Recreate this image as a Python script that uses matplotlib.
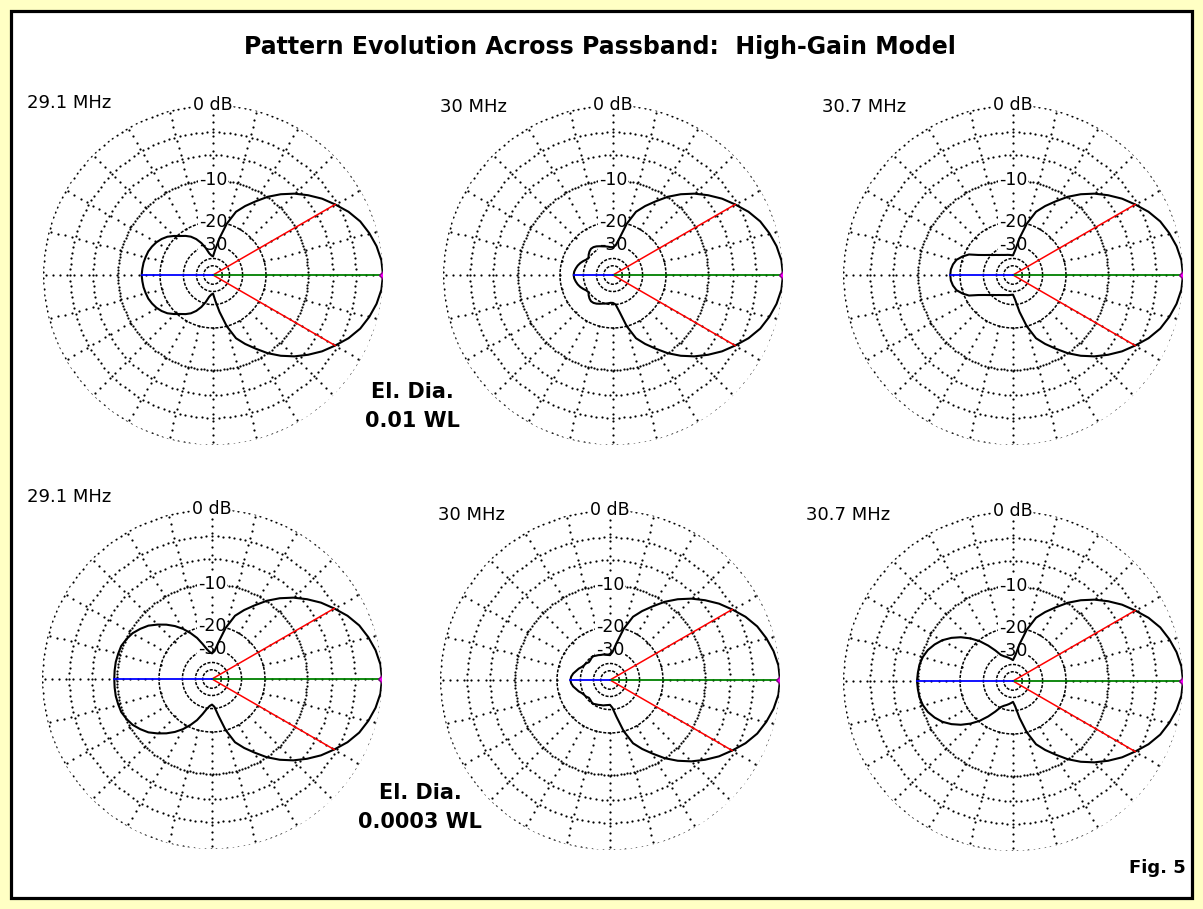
import numpy as np
import matplotlib.pyplot as plt
from matplotlib.patches import Rectangle

plt.rcParams['font.family'] = ['DejaVu Sans']

# azimuth angles (deg), pattern is symmetric about 0 deg
angles_front = [0, 5, 10, 15, 20, 25, 30, 35, 40, 45, 50, 55, 60, 65, 70, 75, 80]
angles_back = [85, 90, 95, 100, 105, 110, 115, 120, 125, 130,
               135, 140, 145, 150, 155, 160, 165, 170, 175, 180]

# forward lobe, dB relative to max (same shape in all six plots)
main_lobe_db = [0, -0.1, -0.4, -0.85, -1.4, -2.2, -3.2, -4.2, -5.4, -6.7,
                -8.2, -9.9, -11.9, -13.8, -15.9, -20.0, -26.0]

# rear half, dB, element dia 0.01 WL
back_291_thick = [-32.5, -38, -37, -35, -31, -27.6, -25.0, -23.1, -21.8, -20.7,
                  -19.3, -18.0, -17.1, -16.4, -15.9, -15.5, -15.3, -15.1, -15.0, -14.9]
back_300_thick = [-30.0, -31, -31, -30.5, -30.0, -29.5, -28.8, -28.1, -27.6, -27.5,
                  -28.0, -28.8, -29.8, -29.3, -28.2, -27.2, -26.4, -25.8, -25.3, -25.1]
back_307_thick = [-33, -37, -36.8, -36.4, -36.0, -35.6, -35.0, -34.2, -33.3, -32.1,
                  -30.8, -29.1, -27.2, -24.8, -21.5, -19.7, -18.3, -17.6, -17.2, -17.1]
# rear half, dB, element dia 0.0003 WL
back_291_thin = [-31, -32.5, -31.5, -29.5, -26.5, -23.3, -20.8, -18.5, -16.6, -15.0,
                 -13.6, -12.3, -11.4, -10.6, -10.1, -9.7, -9.6, -9.5, -9.5, -9.5]
back_300_thin = [-31, -33, -32.8, -32.5, -32.0, -31.8, -31.3, -30.9, -30.3, -30.5,
                 -31.0, -31.2, -30.3, -29.9, -29.2, -28.0, -27.1, -26.0, -25.3, -25.0]
back_307_thin = [-32.5, -36, -35, -34, -33, -32, -30.5, -27, -23.5, -20.3,
                 -17.8, -15.7, -14.0, -12.6, -11.6, -10.8, -10.3, -10.0, -9.9, -9.8]

freq_labels = ['29.1 MHz', '30 MHz', '30.7 MHz']
dia_labels = ['0.01 WL', '0.0003 WL']
ring_db = [0, -3, -6, -10, -20, -30, -40, -50]
ring_text = [(0, '0 dB'), (-10, '-10'), (-20, '-20'), (-30, '-30')]
bw_angle = 30

W, H = 1203, 909
R = 170
fig = plt.figure(figsize=(W / 100, H / 100), dpi=100, facecolor='#FFFFC4')
fig.patches.append(Rectangle((11 / W, 11 / H), 1181 / W, 887 / H, transform=fig.transFigure,
                             facecolor='white', edgecolor='black', linewidth=2.3, zorder=-10))


def arrl(db):
    # ARRL log scale: 0.89 radius per 2 dB
    return 0.89 ** (-np.asarray(db, dtype=float) / 2)


def panel(cx, cy, back, label, lx, ly):
    ax = fig.add_axes([(cx - R) / W, 1 - (cy + R) / H, 2 * R / W, 2 * R / H], projection='polar')
    ax.set_ylim(0, 1)
    ax.axis('off')

    for d in ring_db:
        r = arrl(d)
        if d >= -10:
            gap = 5.6 if d > -10 else 3.3
            n = int(round(2 * np.pi * r * R / gap))
            th = np.linspace(0, 2 * np.pi, n, endpoint=False)
            ax.plot(th, np.full(n, r), ls='none', marker='o', ms=1.6, mew=0, color='k')
        else:
            th = np.linspace(0, 2 * np.pi, 240)
            ax.plot(th, np.full(th.size, r), color='k', lw=1.1, dashes=(2, 1))

    rs = np.arange(arrl(-20), 1.0, 0.042)
    for a in range(0, 360, 15):
        ax.plot(np.full(rs.size, np.radians(a)), rs, ls='none', marker='o', ms=1.6, mew=0, color='k')

    for d, t in ring_text:
        ax.text(np.pi / 2, arrl(d), t, ha='center', va='center', fontsize=12.5, zorder=3,
                bbox=dict(fc='white', ec='none', pad=0.3))

    deg = np.array(angles_front + angles_back)
    db = np.array(main_lobe_db + back)
    th = np.radians(np.concatenate([deg, 360 - deg[::-1][1:]]))
    rr = arrl(np.concatenate([db, db[::-1][1:]]))
    ax.plot(th, rr, color='k', lw=1.5, zorder=4)

    r_bw = arrl(main_lobe_db[angles_front.index(bw_angle)])
    for s in (1, -1):
        ax.plot([0, s * np.radians(bw_angle)], [0, r_bw], color='red', lw=1.1, zorder=5)
    ax.plot([0, 0], [0, 1], color='green', lw=1.3, zorder=5)
    ax.plot([np.pi, np.pi], [0, arrl(back[-1])], color='blue', lw=1.3, zorder=5)
    ax.plot([0], [1], marker='D', ms=4, color='magenta', mec='purple', zorder=6)

    fig.text(lx / W, 1 - ly / H, label, ha='left', va='center', fontsize=13)


centers = [(213, 275), (613, 275), (1013, 275), (212, 679), (610, 680), (1013, 681)]
label_pos = [(27, 103), (440, 107), (822, 107), (27, 497), (438, 515), (806, 515)]
backs = [back_291_thick, back_300_thick, back_307_thick, back_291_thin, back_300_thin, back_307_thin]

for i in range(6):
    cx, cy = centers[i]
    lx, ly = label_pos[i]
    panel(cx, cy, backs[i], freq_labels[i % 3], lx, ly)

fig.text(600 / W, 1 - 47 / H, 'Pattern Evolution Across Passband:  High-Gain Model',
         ha='center', va='center', fontsize=17, fontweight='bold')
fig.text(412 / W, 1 - 392 / H, 'El. Dia.', ha='center', va='center', fontsize=15, fontweight='bold')
fig.text(412 / W, 1 - 421 / H, dia_labels[0], ha='center', va='center', fontsize=15, fontweight='bold')
fig.text(420 / W, 1 - 793 / H, 'El. Dia.', ha='center', va='center', fontsize=15, fontweight='bold')
fig.text(420 / W, 1 - 822 / H, dia_labels[1], ha='center', va='center', fontsize=15, fontweight='bold')
fig.text(1157 / W, 1 - 868 / H, 'Fig. 5', ha='center', va='center', fontsize=13, fontweight='bold')

fig.savefig('out.png', dpi=100, facecolor=fig.get_facecolor())
